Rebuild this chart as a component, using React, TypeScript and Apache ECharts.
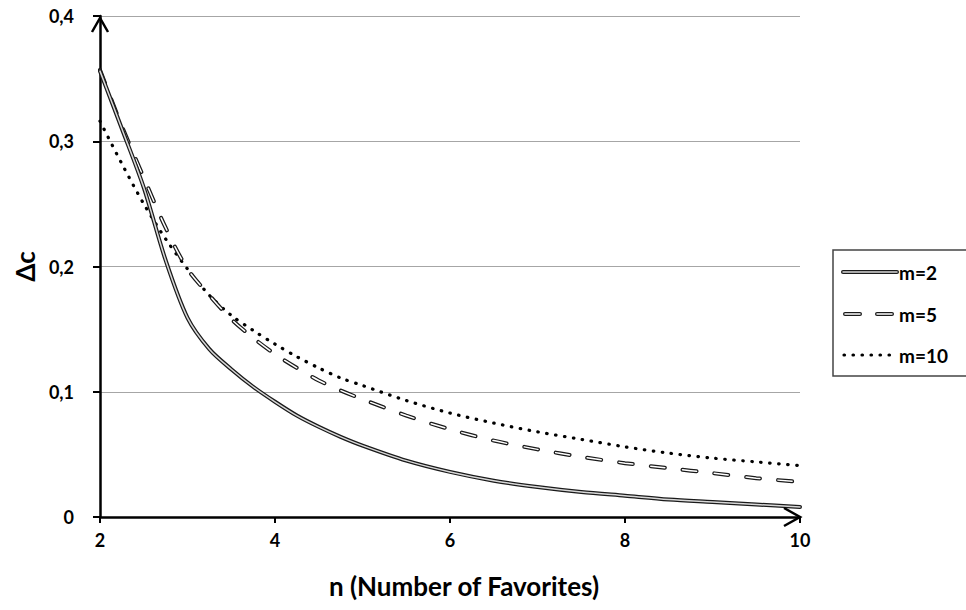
import React, { useEffect, useRef } from "react";
import * as echarts from "echarts";

const nValues = [2, 2.25, 2.5, 2.75, 3, 3.25, 3.5, 3.75, 4, 4.25, 4.5, 4.75, 5, 5.5, 6, 6.5, 7, 7.5, 8, 8.5, 9, 9.5, 10];
const m2 = [0.356, 0.31, 0.263, 0.205, 0.159, 0.134, 0.118, 0.104, 0.092, 0.081, 0.072, 0.064, 0.057, 0.045, 0.036, 0.029, 0.024, 0.020, 0.017, 0.014, 0.012, 0.010, 0.008];
const m5 = [0.357, 0.312, 0.271, 0.231, 0.198, 0.177, 0.158, 0.143, 0.130, 0.119, 0.109, 0.101, 0.094, 0.081, 0.070, 0.061, 0.054, 0.048, 0.043, 0.039, 0.035, 0.031, 0.028];
const m10 = [0.316, 0.282, 0.250, 0.222, 0.198, 0.177, 0.161, 0.149, 0.138, 0.128, 0.119, 0.111, 0.105, 0.093, 0.083, 0.075, 0.068, 0.062, 0.056, 0.051, 0.047, 0.044, 0.041];
const seriesNames = ["m=2", "m=5", "m=10"];
const xAxisTitle = "n (Number of Favorites)";
const yAxisTitle = "Δc";

const FONT = "Lato, 'Open Sans', sans-serif";

export default function App() {
  const ref = useRef<HTMLDivElement>(null);
  useEffect(() => {
    if (!ref.current) return;
    const chart = echarts.init(ref.current, null, { renderer: "svg" });
    const pair = (arr: number[]) => nValues.map((n, i) => [n, arr[i]]);
    const common = { type: "line", showSymbol: false, symbol: "none", smooth: 0.3, silent: true };
    chart.setOption({
      animation: false,
      backgroundColor: "#ffffff",
      grid: { left: 100, right: 166, top: 16, bottom: 93 },
      xAxis: {
        type: "value",
        min: 2,
        max: 10,
        interval: 2,
        name: xAxisTitle,
        nameLocation: "middle",
        nameGap: 56,
        nameTextStyle: { fontFamily: FONT, fontWeight: "bold", fontSize: 26, color: "#000", padding: [0, 0, 0, 28] },
        axisLine: { show: true, onZero: false, lineStyle: { color: "#000", width: 2.5 } },
        axisTick: { show: true, inside: false, length: 6, lineStyle: { color: "#000", width: 2 } },
        axisLabel: { margin: 14, fontFamily: FONT, fontWeight: "bold", fontSize: 18, color: "#000" },
        splitLine: { show: false },
      },
      yAxis: {
        type: "value",
        min: 0,
        max: 0.4,
        interval: 0.1,
        name: yAxisTitle,
        nameLocation: "middle",
        nameGap: 62,
        nameRotate: 90,
        nameTextStyle: { fontFamily: FONT, fontWeight: "bold", fontSize: 26, color: "#000" },
        axisLine: { show: true, onZero: false, lineStyle: { color: "#000", width: 2.5 } },
        axisTick: { show: true, inside: false, length: 7, lineStyle: { color: "#000", width: 2 } },
        axisLabel: {
          margin: 26,
          fontFamily: FONT,
          fontWeight: "bold",
          fontSize: 18,
          color: "#000",
          formatter: (v: number) => (v === 0 ? "0" : v.toFixed(1).replace(".", ",")),
        },
        splitLine: { show: true, lineStyle: { color: "#a6a6a6", width: 1.2 } },
      },
      series: [
        {
          ...common,
          name: seriesNames[2],
          data: pair(m10),
          lineStyle: { color: "#000", width: 3.2, type: [0.5, 8.5], cap: "round" },
          z: 2,
        },
        {
          ...common,
          name: seriesNames[1],
          data: pair(m5),
          lineStyle: { color: "#1a1a1a", width: 4, type: [14, 18], cap: "round" },
          z: 3,
        },
        {
          ...common,
          name: seriesNames[1] + " inner",
          data: pair(m5),
          lineStyle: { color: "#ffffff", width: 1.5, type: [14, 18], cap: "round" },
          z: 4,
        },
        {
          ...common,
          name: seriesNames[0],
          data: pair(m2),
          lineStyle: { color: "#1a1a1a", width: 4, cap: "round" },
          z: 5,
        },
        {
          ...common,
          name: seriesNames[0] + " inner",
          data: pair(m2),
          lineStyle: { color: "#d8d8d8", width: 1.5, cap: "round" },
          z: 6,
        },
      ],
    });

    const o = chart.convertToPixel({ gridIndex: 0 }, [10, 0]) as number[];
    const t = chart.convertToPixel({ gridIndex: 0 }, [2, 0.4]) as number[];
    const legendX = 843;
    const legendW = 54;
    const rows = [272, 314, 355];
    const txtStyle = { fontFamily: FONT, fontWeight: "bold", fontSize: 19, fill: "#000" };
    chart.setOption({
      graphic: [
        {
          type: "polyline",
          shape: { points: [[o[0] - 16, o[1] - 9], [o[0], o[1]], [o[0] - 16, o[1] + 9]] },
          style: { stroke: "#000", lineWidth: 2.5, fill: null },
          z: 100,
        },
        {
          type: "polyline",
          shape: { points: [[t[0] - 8, t[1] + 16], [t[0], t[1] + 2], [t[0] + 8, t[1] + 16]] },
          style: { stroke: "#000", lineWidth: 2.5, fill: null },
          z: 100,
        },
        {
          type: "rect",
          shape: { x: 833, y: 250, width: 140, height: 126 },
          style: { stroke: "#444", lineWidth: 1.5, fill: "#fff" },
          z: 100,
        },
        {
          type: "line",
          shape: { x1: legendX, y1: rows[0], x2: legendX + legendW, y2: rows[0] },
          style: { stroke: "#1a1a1a", lineWidth: 4, lineCap: "round" },
          z: 101,
        },
        {
          type: "line",
          shape: { x1: legendX, y1: rows[0], x2: legendX + legendW, y2: rows[0] },
          style: { stroke: "#d8d8d8", lineWidth: 1.5, lineCap: "round" },
          z: 102,
        },
        {
          type: "line",
          shape: { x1: legendX + 2, y1: rows[1], x2: legendX + legendW, y2: rows[1] },
          style: { stroke: "#1a1a1a", lineWidth: 4, lineCap: "round", lineDash: [15, 17] },
          z: 101,
        },
        {
          type: "line",
          shape: { x1: legendX + 2, y1: rows[1], x2: legendX + legendW, y2: rows[1] },
          style: { stroke: "#fff", lineWidth: 1.5, lineCap: "round", lineDash: [15, 17] },
          z: 102,
        },
        {
          type: "line",
          shape: { x1: legendX + 1, y1: rows[2], x2: legendX + legendW, y2: rows[2] },
          style: { stroke: "#000", lineWidth: 3.2, lineCap: "round", lineDash: [0.5, 8.5] },
          z: 101,
        },
        ...seriesNames.map((nm, i) => ({
          type: "text",
          x: 899,
          y: rows[i],
          style: { ...txtStyle, text: nm, textVerticalAlign: "middle", verticalAlign: "middle" },
          z: 103,
        })),
      ],
    });

    return () => chart.dispose();
  }, []);
  return <div ref={ref} style={{ position: "absolute", left: 0, top: 0, width: 966, height: 610 }} />;
}
